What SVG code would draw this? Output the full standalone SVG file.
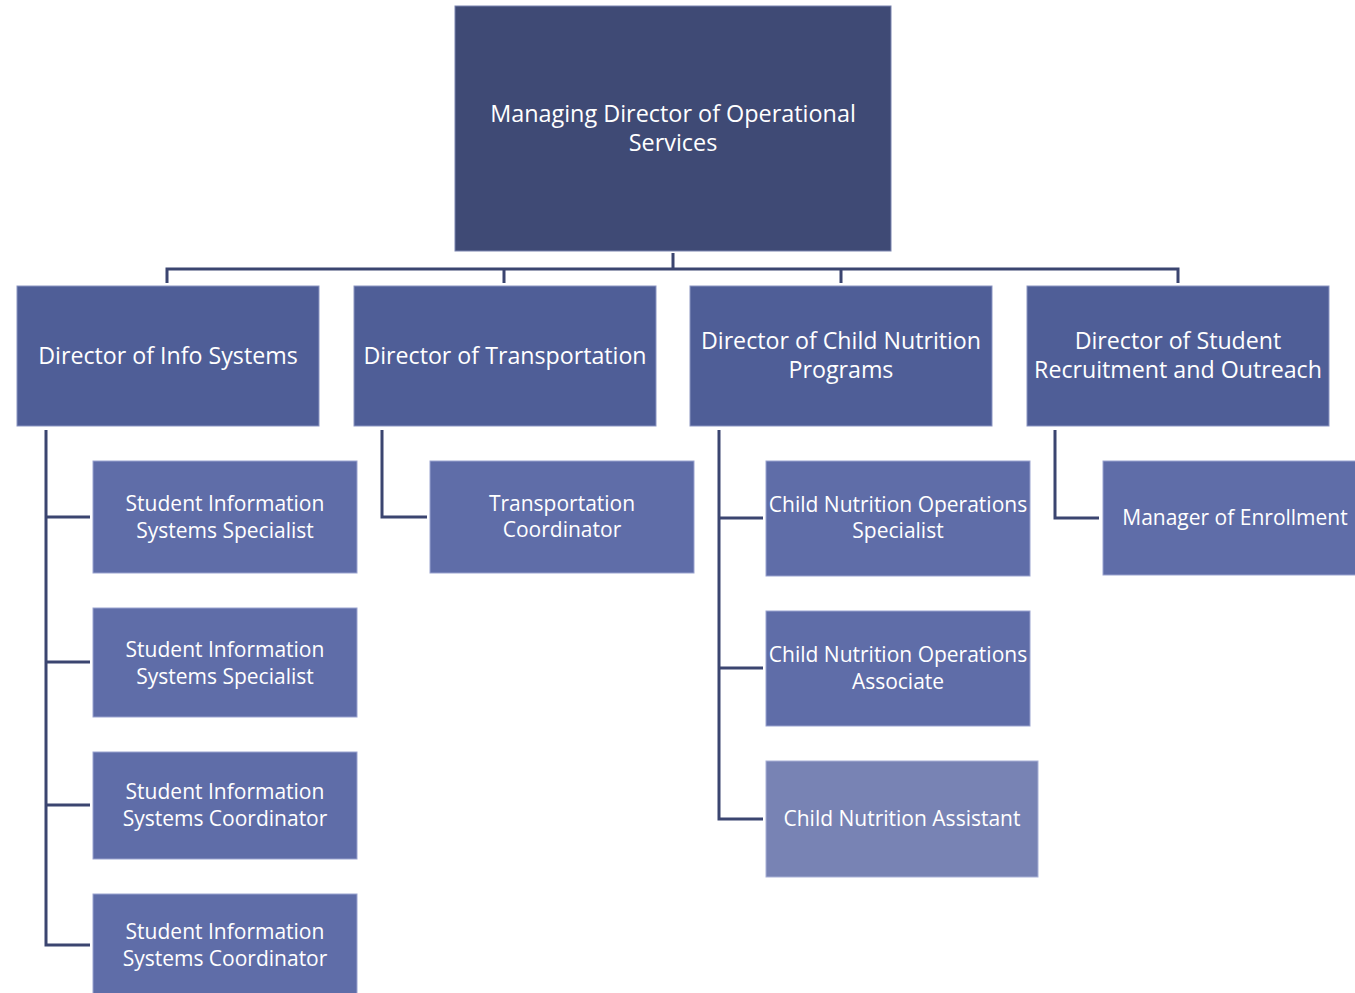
<svg xmlns="http://www.w3.org/2000/svg" width="1355" height="993" viewBox="0 0 1355 993">
<style>
text{font-family:"Open Sans","Noto Sans",sans-serif;fill:#fff;text-anchor:middle}
.t0{font-size:23.4px}
.t1{font-size:23.2px}
.t2{font-size:21px}
.c{fill:none;stroke:#3b4570;stroke-width:3}
.b0{fill:#3f4a75;stroke:#7a84b0;stroke-width:1}
.b1{fill:#4f5e97;stroke:#8b95c2;stroke-width:1}
.b2{fill:#5f6da8;stroke:#9aa3cf;stroke-width:1}
.b3{fill:#7883b4;stroke:#a8b0d6;stroke-width:1}
</style>
<rect width="1355" height="993" fill="#fff"/>
<g id="connectors">
<path class="c" d="M673 253V269M167 283V269H1178V283M504 269V283M841 269V283"/>
<path class="c" d="M46 430V945H90M46 517H90M46 662H90M46 805H90"/>
<path class="c" d="M382 430V517H427"/>
<path class="c" d="M719 430V819H763M719 518H763M719 668H763"/>
<path class="c" d="M1055 430V518H1099"/>
</g>
<g id="n0"><rect class="b0" x="455" y="6" width="436" height="245"/><text class="t0" x="673" y="122">Managing Director of Operational</text><text class="t0" x="673" y="151">Services</text></g>
<g id="n1"><rect class="b1" x="17" y="286" width="302" height="140"/><text class="t1" x="168" y="364">Director of Info Systems</text></g>
<g id="n2"><rect class="b1" x="354" y="286" width="302" height="140"/><text class="t1" x="505" y="364">Director of Transportation</text></g>
<g id="n3"><rect class="b1" x="690" y="286" width="302" height="140"/><text class="t1" x="841" y="349">Director of Child Nutrition</text><text class="t1" x="841" y="378">Programs</text></g>
<g id="n4"><rect class="b1" x="1027" y="286" width="302" height="140"/><text class="t1" x="1178" y="349">Director of Student</text><text class="t1" x="1178" y="378">Recruitment and Outreach</text></g>
<g id="n5"><rect class="b2" x="93" y="461" width="264" height="112"/><text class="t2" x="225" y="511">Student Information</text><text class="t2" x="225" y="538">Systems Specialist</text></g>
<g id="n6"><rect class="b2" x="93" y="608" width="264" height="109"/><text class="t2" x="225" y="657">Student Information</text><text class="t2" x="225" y="684">Systems Specialist</text></g>
<g id="n7"><rect class="b2" x="93" y="752" width="264" height="107"/><text class="t2" x="225" y="799">Student Information</text><text class="t2" x="225" y="826">Systems Coordinator</text></g>
<g id="n8"><rect class="b2" x="93" y="894" width="264" height="105"/><text class="t2" x="225" y="939">Student Information</text><text class="t2" x="225" y="966">Systems Coordinator</text></g>
<g id="n9"><rect class="b2" x="430" y="461" width="264" height="112"/><text class="t2" x="562" y="511">Transportation</text><text class="t2" x="562" y="537">Coordinator</text></g>
<g id="n10"><rect class="b2" x="766" y="461" width="264" height="115"/><text class="t2" x="898" y="512">Child Nutrition Operations</text><text class="t2" x="898" y="538">Specialist</text></g>
<g id="n11"><rect class="b2" x="766" y="611" width="264" height="115"/><text class="t2" x="898" y="662">Child Nutrition Operations</text><text class="t2" x="898" y="689">Associate</text></g>
<g id="n12"><rect class="b3" x="766" y="761" width="272" height="116"/><text class="t2" x="902" y="826">Child Nutrition Assistant</text></g>
<g id="n13"><rect class="b2" x="1103" y="461" width="260" height="114"/><text class="t2" x="1235" y="525">Manager of Enrollment</text></g>
</svg>
